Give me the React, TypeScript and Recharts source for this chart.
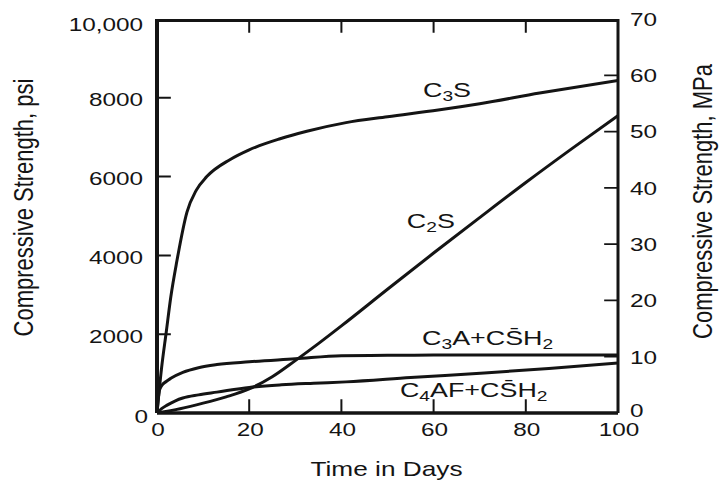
import { LineChart, Line, XAxis, YAxis, ReferenceDot, Label } from 'recharts';

// strength gain of the pure cement compounds, psi vs days
const c3sDays = [0, 1, 2, 3, 4.3, 6.5, 8.5, 10.8, 15.8, 20, 26.7, 32.5, 41, 50, 61, 70, 83, 100];
const c3sPsi = [0, 1150, 2050, 2950, 3850, 5100, 5650, 6000, 6430, 6680, 6960, 7150, 7370, 7520, 7690, 7850, 8120, 8440];

const c2sDays = [0, 5, 10, 15, 20, 25, 30, 35, 40, 50, 60, 70, 80, 90, 100];
const c2sPsi = [0, 110, 250, 410, 610, 920, 1330, 1760, 2210, 3140, 4060, 4960, 5850, 6710, 7550];

const c3aDays = [0, 0.5, 1, 2, 3, 5.6, 9, 13, 20, 30, 40, 50, 60, 80, 100];
const c3aPsi = [0, 560, 690, 800, 880, 1030, 1150, 1230, 1300, 1375, 1455, 1465, 1470, 1472, 1470];

const c4afDays = [0, 1, 2.2, 4, 5.6, 9, 13, 20, 27, 34, 41, 55, 71, 85, 100];
const c4afPsi = [0, 110, 200, 310, 380, 460, 530, 650, 715, 755, 790, 900, 1015, 1130, 1270];

const dayTicks = [0, 20, 40, 60, 80, 100];
const psiTicks = [0, 2000, 4000, 6000, 8000, 10000];
const mpaTicks = [0, 10, 20, 30, 40, 50, 60, 70];

// curve annotations: where each label starts (day, psi at baseline)
const labelNames = ['c3s', 'c2s', 'c3a', 'c4af'];
const labelDays = [57.7, 54.2, 57.5, 52.7];
const labelPsi = [8020, 4695, 1726, 406];

const toPoints = (days: number[], psi: number[]) => days.map((d, i) => ({ day: d, psi: psi[i] }));

const c3sData = toPoints(c3sDays, c3sPsi);
const c2sData = toPoints(c2sDays, c2sPsi);
const c3aData = toPoints(c3aDays, c3aPsi);
const c4afData = toPoints(c4afDays, c4afPsi);

const FONT = "'Liberation Sans', Arial, Helvetica, sans-serif";
const INK = '#141414';
const SX = 1.28; // the scan is stretched sideways

// inward tick marks (~14px), built from the tick lists as broken paths
const TICK_DAYS = 3;
const TICK_PSI = 350;
const inner = (arr: number[]) => arr.slice(1, -1);

const leftMarks: any[] = [];
inner(psiTicks).forEach((v) => {
  leftMarks.push({ day: 0, psi: v }, { day: TICK_DAYS, psi: v }, { day: TICK_DAYS, psi: null });
});
const bottomMarks: any[] = [];
inner(dayTicks).forEach((d) => {
  bottomMarks.push({ day: d, psi: 0 }, { day: d, psi: TICK_PSI }, { day: d, psi: null });
});
const topMarks: any[] = [];
inner(dayTicks).forEach((d) => {
  topMarks.push({ day: d, psi: 10000 }, { day: d, psi: 10000 - TICK_PSI }, { day: d, psi: null });
});
const rightMarks: any[] = [];
inner(mpaTicks).forEach((v) => {
  rightMarks.push({ day: 100 - TICK_DAYS, mpa: v }, { day: 100, mpa: v }, { day: 100, mpa: null });
});
// top frame edge
const topEdge = [
  { day: dayTicks[0], psi: psiTicks[psiTicks.length - 1] },
  { day: dayTicks[dayTicks.length - 1], psi: psiTicks[psiTicks.length - 1] },
];

const LeftTick = (props: any) => {
  const { x, y, payload } = props;
  const v = payload.value;
  const text = v >= 10000 ? v.toLocaleString('en-US') : String(v);
  const dx = v === 0 ? 5 : 0;
  const dy = v === 0 ? 3 : v === 10000 ? 5 : 1.5;
  return (
    <g transform={`translate(${x + dx},${y + dy}) scale(${SX},1)`}>
      <text textAnchor="end" dy="0.36em" fontSize={19} fontFamily={FONT} fill={INK}>
        {text}
      </text>
    </g>
  );
};

const RightTick = (props: any) => {
  const { x, y, payload } = props;
  const dy = payload.value === 0 ? -3 : 0;
  return (
    <g transform={`translate(${x},${y + dy}) scale(${SX},1)`}>
      <text textAnchor="start" dy="0.36em" fontSize={19} fontFamily={FONT} fill={INK}>
        {payload.value}
      </text>
    </g>
  );
};

const BottomTick = (props: any) => {
  const { x, y, payload } = props;
  return (
    <g transform={`translate(${x + 1},${y}) scale(${SX},1)`}>
      <text textAnchor="middle" dy="0.72em" fontSize={19} fontFamily={FONT} fill={INK}>
        {payload.value}
      </text>
    </g>
  );
};

const XTitle = (props: any) => {
  const { x, y, width } = props.viewBox;
  return (
    <g transform={`translate(${x + width / 2 - 1},${y + 63}) scale(1.25,1)`}>
      <text textAnchor="middle" fontSize={21} fontFamily={FONT} fill={INK}>
        Time in Days
      </text>
    </g>
  );
};

const LeftTitle = (props: any) => {
  const { x, y, height } = props.viewBox;
  return (
    <g transform={`translate(${x - 44},${y + height / 2 - 8.5}) scale(${SX},1) rotate(-90)`}>
      <text textAnchor="middle" fontSize={22} fontFamily={FONT} fill={INK}>
        Compressive Strength, psi
      </text>
    </g>
  );
};

const RightTitle = (props: any) => {
  const { x, y, height } = props.viewBox;
  return (
    <g transform={`translate(${x + 94},${y + height / 2 - 14.5}) scale(${SX},1) rotate(-90)`}>
      <text textAnchor="middle" fontSize={22} fontFamily={FONT} fill={INK}>
        Compressive Strength, MPa
      </text>
    </g>
  );
};

// chemical formulas with subscripts, S-bar for sulfate
const formulas: Record<string, [string, boolean][]> = {
  c3s: [['C', false], ['3', true], ['S', false]],
  c2s: [['C', false], ['2', true], ['S', false]],
  c3a: [['C', false], ['3', true], ['A+CS\u0304H', false], ['2', true]],
  c4af: [['C', false], ['4', true], ['AF+CS\u0304H', false], ['2', true]],
};

const Formula = ({ cx, cy, name }: { cx: number; cy: number; name: string }) => {
  let shift = 0;
  return (
    <g transform={`translate(${cx},${cy}) scale(${SX},1)`}>
      <text fontSize={21} fontFamily={FONT} fill={INK}>
        {formulas[name].map(([t, sub], i) => {
          const target = sub ? 4 : 0;
          const dy = target - shift;
          shift = target;
          return (
            <tspan key={i} dy={dy} fontSize={sub ? 15 : 21}>
              {t}
            </tspan>
          );
        })}
      </text>
    </g>
  );
};

const series = [c3sData, c2sData, c3aData, c4afData];
const psiMarks = [leftMarks, bottomMarks, topMarks];

export default function App() {
  return (
    <div style={{ position: 'fixed', left: 0, top: 0, width: 719, height: 482, background: '#fff' }}>
      <LineChart width={719} height={482} margin={{ top: 19, right: 41, bottom: 29, left: 77 }}>
        <XAxis
          xAxisId="bottom"
          type="number"
          dataKey="day"
          domain={[0, 100]}
          ticks={dayTicks}
          height={40}
          tickSize={0}
          tickMargin={9}
          tick={BottomTick}
          axisLine={{ stroke: INK, strokeWidth: 3.5 }}
          tickLine={false}
          allowDataOverflow
        >
          <Label content={XTitle} />
        </XAxis>
        <YAxis
          yAxisId="psi"
          type="number"
          domain={[0, 10000]}
          ticks={psiTicks}
          width={80}
          tickSize={0}
          tickMargin={14}
          tick={LeftTick}
          axisLine={{ stroke: INK, strokeWidth: 4 }}
          tickLine={false}
          allowDataOverflow
        >
          <Label content={LeftTitle} />
        </YAxis>
        <YAxis
          yAxisId="mpa"
          orientation="right"
          type="number"
          domain={[0, 70]}
          ticks={mpaTicks}
          width={60}
          tickSize={0}
          tickMargin={12}
          tick={RightTick}
          axisLine={{ stroke: INK, strokeWidth: 3 }}
          tickLine={false}
          allowDataOverflow
        >
          <Label content={RightTitle} />
        </YAxis>

        {series.map((d, i) => (
          <Line
            key={`s${i}`}
            xAxisId="bottom"
            yAxisId="psi"
            data={d}
            dataKey="psi"
            type="monotone"
            stroke={INK}
            strokeWidth={3}
            dot={false}
            activeDot={false}
            isAnimationActive={false}
          />
        ))}

        {labelNames.map((n, i) => (
          <ReferenceDot
            key={n}
            xAxisId="bottom"
            yAxisId="psi"
            x={labelDays[i]}
            y={labelPsi[i]}
            r={0}
            shape={(p: any) => <Formula cx={p.cx} cy={p.cy} name={n} />}
          />
        ))}

        {/* frame top edge and inward tick marks on all four sides */}
        <Line
          xAxisId="bottom"
          yAxisId="psi"
          data={topEdge}
          dataKey="psi"
          type="linear"
          stroke={INK}
          strokeWidth={6}
          dot={false}
          activeDot={false}
          isAnimationActive={false}
        />
        {psiMarks.map((d, i) => (
          <Line
            key={`m${i}`}
            xAxisId="bottom"
            yAxisId="psi"
            data={d}
            dataKey="psi"
            type="linear"
            stroke={INK}
            strokeWidth={2}
            dot={false}
            activeDot={false}
            isAnimationActive={false}
          />
        ))}
        <Line
          xAxisId="bottom"
          yAxisId="mpa"
          data={rightMarks}
          dataKey="mpa"
          type="linear"
          stroke={INK}
          strokeWidth={1.8}
          dot={false}
          activeDot={false}
          isAnimationActive={false}
        />
      </LineChart>
    </div>
  );
}
